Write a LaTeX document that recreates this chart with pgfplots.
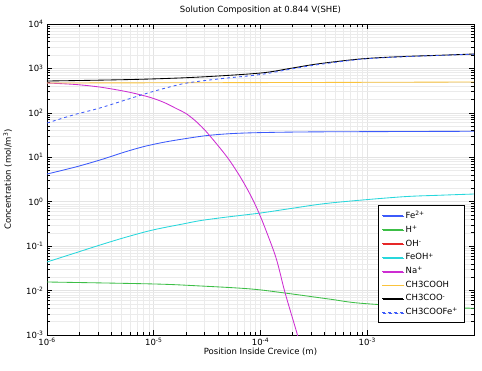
\documentclass[border=0pt]{standalone}
\usepackage{pgfplots}
\pgfplotsset{compat=1.18}
\usepackage{fontspec}
\setmainfont{DejaVu Sans}
\usetikzlibrary{shadows}
\definecolor{cFe}{RGB}{60,90,250}
\definecolor{cH}{RGB}{60,190,70}
\definecolor{cOH}{RGB}{230,40,40}
\definecolor{cFeOH}{RGB}{40,215,220}
\definecolor{cNa}{RGB}{205,45,210}
\definecolor{cAc}{RGB}{250,195,60}
\definecolor{cAcFe}{RGB}{60,90,250}
\newcommand{\fs}{\fontsize{8.5}{10}\selectfont}
\begin{document}
\begin{tikzpicture}
\begin{axis}[
  scale only axis, width=427pt, height=311pt,
  xmode=log, ymode=log,
  xmin=1e-6, xmax=1e-2, ymin=1e-3, ymax=1e4,
  xtick={1e-6,1e-5,1e-4,1e-3},
  xticklabels={10\textsuperscript{-6},10\textsuperscript{-5},10\textsuperscript{-4},10\textsuperscript{-3}},
  ytick={1e-3,1e-2,1e-1,1,1e1,1e2,1e3,1e4},
  yticklabels={10\textsuperscript{-3},10\textsuperscript{-2},10\textsuperscript{-1},10\textsuperscript{0},10\textsuperscript{1},10\textsuperscript{2},10\textsuperscript{3},10\textsuperscript{4}},
  tick label style={font=\fs},
  major tick length=5pt, minor tick length=3pt,
  tick align=inside,
  every tick/.style={black, line width=0.6pt},
  grid=both,
  major grid style={gray!22, line width=0.5pt},
  minor grid style={gray!16, line width=0.5pt},
  axis line style={black, line width=0.8pt},
  title={Solution Composition at 0.844 V(SHE)},
  title style={font=\fs, at={(axis description cs:0.5,1.026)}, anchor=center},
  xlabel={Position Inside Crevice (m)},
  xlabel style={font=\fs, at={(axis description cs:0.5,-0.055)}, anchor=center},
  ylabel={Concentration (mol/m\textsuperscript{3})},
  ylabel style={font=\fs, at={(axis description cs:-0.092,0.5)}, anchor=center},
  legend style={font=\fs, at={(rel axis cs:0.977,0.418)}, anchor=north east,
    draw=black, line width=0.6pt, fill=white, row sep=1.8pt,
    drop shadow={shadow xshift=1pt, shadow yshift=-1pt, fill=black!60, opacity=1},
    inner xsep=4pt, inner ysep=4pt},
  legend cell align=left,
  legend image code/.code={\draw[#1, line width=0.8pt] (0pt,0pt) -- (21pt,0pt);},
  every axis plot/.append style={line width=0.85pt, smooth, tension=0.55},
]
% Fe2+
\addplot[cFe] coordinates {(1e-6,4.2)(1.83e-6,6.0)(3.14e-6,8.7)(5.38e-6,13.2)(7.76e-6,17.0)(1.0e-5,19.6)(1.28e-5,22.1)(1.88e-5,25.8)(3.30e-5,31.2)(6.73e-5,35.0)(2.35e-4,37.1)(2.03e-3,38.0)(1e-2,38.5)};
\addlegendentry{Fe\textsuperscript{2+}}
% H+
\addplot[cH] coordinates {(1e-6,0.0156)(9.8e-6,0.0141)(2.72e-5,0.0127)(8.0e-5,0.0109)(1.70e-4,0.0088)(4.49e-4,0.0064)(8.57e-4,0.0052)(3.13e-3,0.0043)(1e-2,0.0040)};
\addlegendentry{H\textsuperscript{+}}
% OH- (below visible range)
\addplot[cOH] coordinates {(1e-6,1e-6)(1e-2,1e-6)};
\addlegendentry{OH\textsuperscript{-}}
% FeOH+
\addplot[cFeOH] coordinates {(1e-6,0.044)(1.83e-6,0.070)(3.14e-6,0.106)(5.38e-6,0.157)(9.8e-6,0.231)(1.88e-5,0.316)(2.72e-5,0.375)(4.6e-5,0.445)(1.0e-4,0.557)(1.9e-4,0.70)(4.49e-4,0.935)(2.03e-3,1.28)(4.82e-3,1.40)(1e-2,1.49)};
\addlegendentry{FeOH\textsuperscript{+}}
% Na+
\addplot[cNa] coordinates {(1e-6,470)(1.83e-6,436)(3.14e-6,380)(5.38e-6,305)(7.76e-6,250)(1.0e-5,210)(1.28e-5,167)(1.65e-5,123)(2.0e-5,97)(2.44e-5,67)(2.9e-5,45)(3.31e-5,31.6)(4.17e-5,16.2)(5.13e-5,8.5)(6.46e-5,3.63)(7.94e-5,1.51)(9.55e-5,0.60)(1.148e-4,0.20)(1.413e-4,0.050)(1.70e-4,0.0089)(2.19e-4,0.00112)(2.63e-4,0.000224)};
\addlegendentry{Na\textsuperscript{+}}
% CH3COOH
\addplot[cAc] coordinates {(1e-6,470)(1e-4,480)(1e-2,495)};
\addlegendentry{CH3COOH}
% CH3COO-
\addplot[black] coordinates {(1e-6,521)(3.14e-6,545)(9.23e-6,578)(2.72e-5,641)(1e-4,788)(1.89e-4,1000)(3.39e-4,1259)(8.57e-4,1631)(2.03e-3,1840)(4.82e-3,1980)(1e-2,2113)};
\addlegendentry{CH3COO\textsuperscript{-}}
% CH3COOFe+
\addplot[cAcFe, dashed] coordinates {(1e-6,59)(1.83e-6,92)(3.14e-6,129)(7.76e-6,255)(1.28e-5,360)(2.05e-5,470)(4.18e-5,585)(1e-4,730)(1.89e-4,960)(3.39e-4,1210)(8.57e-4,1600)(2.03e-3,1820)(4.82e-3,1965)(1e-2,2095)};
\addlegendentry{CH3COOFe\textsuperscript{+}}
\end{axis}
\path[use as bounding box] (-47pt,-35pt) rectangle (435pt,335pt);
\end{tikzpicture}
\end{document}
